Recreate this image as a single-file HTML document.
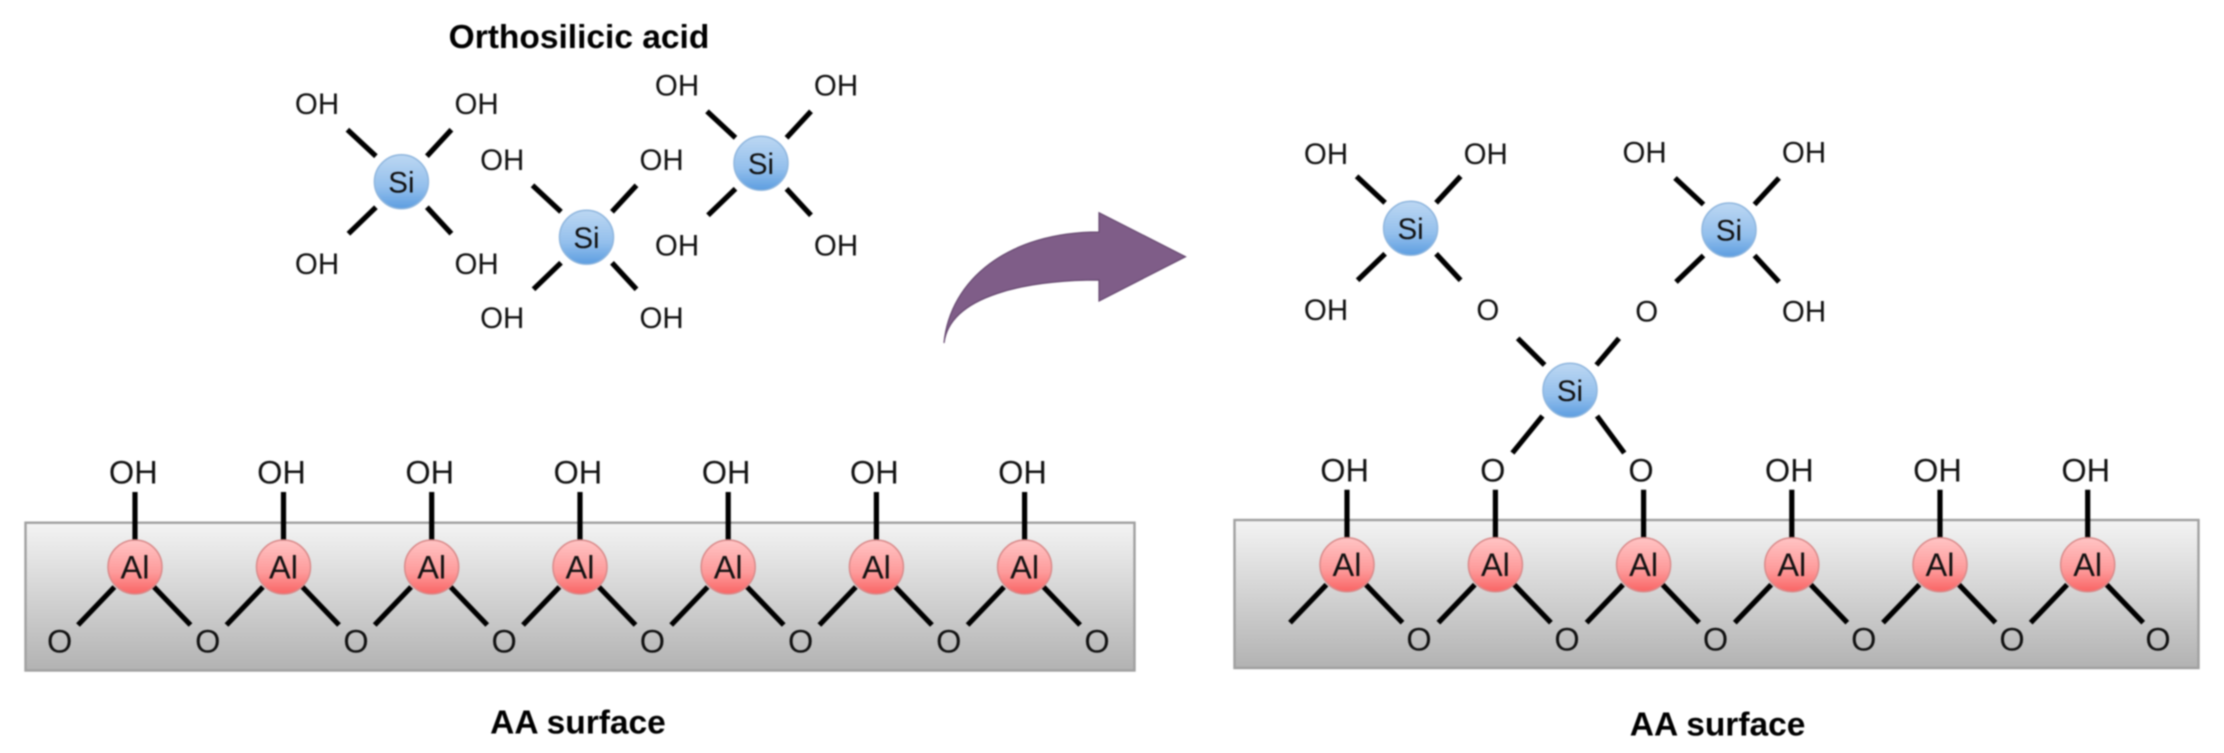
<!DOCTYPE html>
<html>
<head>
<meta charset="utf-8">
<style>
html,body{margin:0;padding:0;background:#fff;width:2224px;height:753px;overflow:hidden}
svg{display:block;filter:blur(0.7px)}
text{font-family:"Liberation Sans",Arial,sans-serif;fill:#111;text-anchor:middle}
.s{font-size:29.5px}
.m{font-size:32.5px}
.b{font-size:33.5px;font-weight:bold;fill:#000}
line{stroke:#000;stroke-width:5.2;stroke-linecap:butt}
.si{fill:url(#gsi);stroke:#8fb6de;stroke-width:1.5}
.al{fill:url(#gal);stroke:#d98a8a;stroke-width:1.5}
.r{fill:url(#gr);stroke:#a0a0a0;stroke-width:2.4}
</style>
</head>
<body>
<svg width="2224" height="753" viewBox="0 0 2224 753" xmlns="http://www.w3.org/2000/svg">
<defs>
<linearGradient id="gsi" x1="0" y1="0" x2="0" y2="1"><stop offset="0" stop-color="#bcd7f2"/><stop offset="0.6" stop-color="#93bfec"/><stop offset="1" stop-color="#5c9de0"/></linearGradient>
<linearGradient id="gal" x1="0" y1="0" x2="0" y2="1"><stop offset="0" stop-color="#ffc4c4"/><stop offset="0.6" stop-color="#fd9a9a"/><stop offset="1" stop-color="#f96464"/></linearGradient>
<linearGradient id="gr" x1="0" y1="0" x2="0" y2="1"><stop offset="0" stop-color="#f3f3f3"/><stop offset="1" stop-color="#b2b2b2"/></linearGradient>
<g id="x"><line x1="-54" y1="-52" x2="-25.5" y2="-25.5"/><line x1="50" y1="-52" x2="25.5" y2="-25.5"/><line x1="-53" y1="52" x2="-25.5" y2="25.5"/><line x1="50" y1="52" x2="25.5" y2="25.5"/></g>
<g id="alb"><line x1="0" y1="-75" x2="0" y2="-26"/><line x1="-20.6" y1="20" x2="-57" y2="58"/><line x1="19" y1="20" x2="55.5" y2="58"/></g>
</defs>

<text class="b" x="579" y="47.8">Orthosilicic acid</text>

<!-- left surface -->
<rect class="r" x="25.5" y="522.7" width="1109" height="147.8"/>
<text class="b" x="578" y="733.5">AA surface</text>

<!-- right surface -->
<rect class="r" x="1234.5" y="520" width="964" height="148"/>
<text class="b" x="1717.6" y="735.5">AA surface</text>

<!-- arrow -->
<path d="M944,343 C950,280 1008,232 1099,232 L1099,212.7 L1185.5,256.7 L1099,301 L1099,280 C1028,280 950,295 944,343 Z" fill="#7f5d88" stroke="#664870" stroke-width="1.2"/>

<!-- left Si molecules -->
<use href="#x" x="401.4" y="181.7"/>
<circle class="si" cx="401.4" cy="181.7" r="27"/>
<text class="s" x="401.4" y="192.3">Si</text>
<text class="s" x="317" y="114">OH</text><text class="s" x="476.6" y="114">OH</text>
<text class="s" x="317" y="274">OH</text><text class="s" x="476.6" y="274">OH</text>

<use href="#x" x="586.5" y="237.3"/>
<circle class="si" cx="586.5" cy="237.3" r="27"/>
<text class="s" x="586.5" y="248">Si</text>
<text class="s" x="502.2" y="170">OH</text><text class="s" x="661.6" y="170">OH</text>
<text class="s" x="502.2" y="328">OH</text><text class="s" x="661.6" y="328">OH</text>

<use href="#x" x="761" y="163.3"/>
<circle class="si" cx="761" cy="163.3" r="27"/>
<text class="s" x="761" y="174">Si</text>
<text class="s" x="677" y="95.5">OH</text><text class="s" x="836" y="95.5">OH</text>
<text class="s" x="677" y="255.5">OH</text><text class="s" x="836" y="255.5">OH</text>

<!-- left Al row -->
<use href="#alb" x="135" y="567"/><use href="#alb" x="283.5" y="567"/><use href="#alb" x="431.7" y="567"/><use href="#alb" x="580" y="567"/><use href="#alb" x="728.2" y="567"/><use href="#alb" x="876.4" y="567"/><use href="#alb" x="1024.6" y="567"/>
<circle class="al" cx="135" cy="567" r="27"/><circle class="al" cx="283.5" cy="567" r="27"/><circle class="al" cx="431.7" cy="567" r="27"/><circle class="al" cx="580" cy="567" r="27"/><circle class="al" cx="728.2" cy="567" r="27"/><circle class="al" cx="876.4" cy="567" r="27"/><circle class="al" cx="1024.6" cy="567" r="27"/>
<text class="m" x="135" y="578.5">Al</text><text class="m" x="283.5" y="578.5">Al</text><text class="m" x="431.7" y="578.5">Al</text><text class="m" x="580" y="578.5">Al</text><text class="m" x="728.2" y="578.5">Al</text><text class="m" x="876.4" y="578.5">Al</text><text class="m" x="1024.6" y="578.5">Al</text>
<text class="m" x="133.3" y="483.5">OH</text><text class="m" x="281.5" y="483.5">OH</text><text class="m" x="429.7" y="483.5">OH</text><text class="m" x="577.9" y="483.5">OH</text><text class="m" x="726.1" y="483.5">OH</text><text class="m" x="874.3" y="483.5">OH</text><text class="m" x="1022.5" y="483.5">OH</text>
<text class="m" x="59.6" y="652.5">O</text><text class="m" x="207.8" y="652.5">O</text><text class="m" x="356" y="652.5">O</text><text class="m" x="504.2" y="652.5">O</text><text class="m" x="652.4" y="652.5">O</text><text class="m" x="800.6" y="652.5">O</text><text class="m" x="948.8" y="652.5">O</text><text class="m" x="1097" y="652.5">O</text>

<!-- right Si molecules -->
<use href="#x" x="1410.6" y="228.3"/>
<circle class="si" cx="1410.6" cy="228.3" r="27"/>
<text class="s" x="1410.6" y="239">Si</text>
<text class="s" x="1326" y="164">OH</text><text class="s" x="1485.7" y="164">OH</text>
<text class="s" x="1326" y="320">OH</text><text class="s" x="1487.9" y="320">O</text>

<use href="#x" x="1729" y="230"/>
<circle class="si" cx="1729" cy="230" r="27"/>
<text class="s" x="1729" y="240.7">Si</text>
<text class="s" x="1644.6" y="162.5">OH</text><text class="s" x="1804" y="162.5">OH</text>
<text class="s" x="1646.7" y="321.5">O</text><text class="s" x="1804" y="321.5">OH</text>

<line x1="1517.7" y1="338.3" x2="1544.6" y2="365"/><line x1="1619" y1="338.3" x2="1596.4" y2="365"/>
<line x1="1542.5" y1="416" x2="1512.4" y2="453"/><line x1="1597" y1="416" x2="1624.3" y2="453"/>
<circle class="si" cx="1570" cy="390.3" r="27"/>
<text class="s" x="1570" y="401">Si</text>

<!-- right Al row -->
<use href="#alb" x="1347" y="564.7"/><use href="#alb" x="1495.4" y="564.7"/><use href="#alb" x="1643.6" y="564.7"/><use href="#alb" x="1791.8" y="564.7"/><use href="#alb" x="1940" y="564.7"/><use href="#alb" x="2087.7" y="564.7"/>
<circle class="al" cx="1347" cy="564.7" r="27"/><circle class="al" cx="1495.4" cy="564.7" r="27"/><circle class="al" cx="1643.6" cy="564.7" r="27"/><circle class="al" cx="1791.8" cy="564.7" r="27"/><circle class="al" cx="1940" cy="564.7" r="27"/><circle class="al" cx="2087.7" cy="564.7" r="27"/>
<text class="m" x="1347" y="576">Al</text><text class="m" x="1495.4" y="576">Al</text><text class="m" x="1643.6" y="576">Al</text><text class="m" x="1791.8" y="576">Al</text><text class="m" x="1940" y="576">Al</text><text class="m" x="2087.7" y="576">Al</text>
<text class="m" x="1344.6" y="481.5">OH</text><text class="m" x="1492.8" y="481.5">O</text><text class="m" x="1641" y="481.5">O</text><text class="m" x="1789.3" y="481.5">OH</text><text class="m" x="1937.5" y="481.5">OH</text><text class="m" x="2085.7" y="481.5">OH</text>
<text class="m" x="1419" y="650.5">O</text><text class="m" x="1567" y="650.5">O</text><text class="m" x="1715.5" y="650.5">O</text><text class="m" x="1863.8" y="650.5">O</text><text class="m" x="2012" y="650.5">O</text><text class="m" x="2158" y="650.5">O</text>
</svg>
</body>
</html>
